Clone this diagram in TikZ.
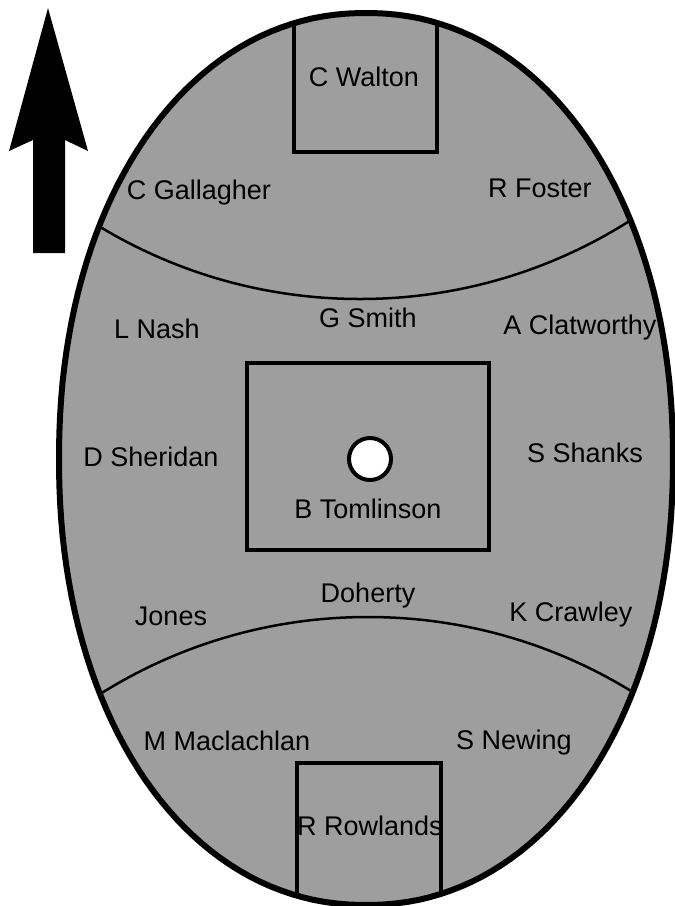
\documentclass[tikz,border=0pt]{standalone}
\usepackage{fontspec}
\setmainfont{Liberation Sans}
\definecolor{fieldgray}{gray}{0.62}
\begin{document}
\begin{tikzpicture}[x=1pt,y=-1pt]
\tikzset{
  lbl/.style={font=\fontsize{27}{30}\selectfont, inner sep=0pt, anchor=base, text=black},
  boxline/.style={line width=4pt, draw=black},
  zoneline/.style={line width=2.5pt, draw=black},
  ovalline/.style={line width=6pt, draw=black},
  spotline/.style={line width=4pt, draw=black, fill=white},
  arrowfill/.style={fill=black}
}
\def\ovalpath{plot[domain=1:359, samples=180] ({366+307*sign(cos(\x))*abs(cos(\x))^0.952},{459+446*sign(sin(\x))*abs(sin(\x))^0.952}) -- cycle}
\useasboundingbox (0,0) rectangle (675,906);
% field
\fill[fieldgray] \ovalpath;
\begin{scope}
  \clip \ovalpath;
  % goal squares
  \draw[boxline] (294,-20) rectangle (437,152);
  \draw[boxline] (297,763) rectangle (441,940);
  % 50 m arcs
  \draw[zoneline] (360,-205) circle[radius=504];
  \draw[zoneline] (368,1121) circle[radius=504];
\end{scope}
% centre square and centre circle
\draw[boxline] (247,363) rectangle (489,550);
\draw[spotline] (370,459) circle[radius=21];
% boundary
\draw[ovalline] \ovalpath;
% direction arrow
\fill[arrowfill] (48,8) -- (88,151) -- (65,140) -- (65,253) -- (33,253) -- (33,140) -- (9,151) -- cycle;
% players
\node[lbl] (walton) at (364,86) {C Walton};
\node[lbl] (gallagher) at (199,199) {C Gallagher};
\node[lbl] (foster) at (540,197) {R Foster};
\node[lbl] (nash) at (157,338) {L Nash};
\node[lbl] (smith) at (368,327) {G Smith};
\node[lbl] (clatworthy) at (580,334) {A Clatworthy};
\node[lbl] (sheridan) at (151,466) {D Sheridan};
\node[lbl] (shanks) at (585,462) {S Shanks};
\node[lbl] (tomlinson) at (368,518) {B Tomlinson};
\node[lbl] (jones) at (171,625) {Jones};
\node[lbl] (doherty) at (368,602) {Doherty};
\node[lbl] (crawley) at (571,621) {K Crawley};
\node[lbl] (maclachlan) at (227,750) {M Maclachlan};
\node[lbl] (newing) at (514,749) {S Newing};
\node[lbl] (rowlands) at (370,835) {R Rowlands};
\end{tikzpicture}
\end{document}
